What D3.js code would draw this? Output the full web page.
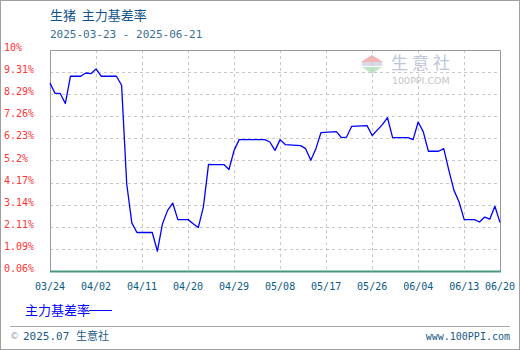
<!DOCTYPE html>
<html>
<head>
<meta charset="utf-8">
<script src="https://cdn.jsdelivr.net/npm/d3@7"></script>
<style>
  body { margin: 0; background: #fff; }
  svg { display: block; }
</style>
</head>
<body>
<div class="plot"></div>
<script>
const width = 520;
const height = 350;
const margin = { top: 50, right: 20, bottom: 79, left: 50 };

// 生猪 主力基差率 (%)
const dates = [
    "03-24", "03-25", "03-26", "03-27", "03-28", "03-30", "03-31", "04-01", "04-02", "04-03",
    "04-06", "04-07", "04-08", "04-09", "04-10", "04-13", "04-14", "04-15", "04-16", "04-17",
    "04-18", "04-20", "04-21", "04-22", "04-23", "04-24", "04-25", "04-27", "04-28", "04-29",
    "04-30", "05-05", "05-06", "05-07", "05-08", "05-09", "05-12", "05-13", "05-14", "05-15",
    "05-16", "05-19", "05-20", "05-21", "05-22", "05-25", "05-26", "05-28", "05-29", "05-30",
    "06-02", "06-03", "06-04", "06-05", "06-06", "06-08", "06-09", "06-10", "06-11", "06-12",
    "06-13", "06-15", "06-16", "06-17", "06-18", "06-19", "06-20"
];
const values = [
    8.80, 8.32, 8.32, 7.85, 9.12, 9.12, 9.27, 9.24, 9.46, 9.12,
    9.12, 8.70, 4.12, 2.30, 1.85, 1.85, 0.98, 2.26, 2.88, 3.22,
    2.45, 2.45, 2.26, 2.08, 3.04, 5.02, 5.01, 5.01, 4.78, 5.67,
    6.17, 6.17, 6.06, 5.67, 6.17, 5.94, 5.89, 5.75, 5.21, 5.75,
    6.50, 6.54, 6.26, 6.29, 6.79, 6.82, 6.36, 6.87, 7.19, 6.26,
    6.26, 6.17, 6.99, 6.53, 5.63, 5.63, 5.75, 4.74, 3.81, 3.27,
    2.45, 2.45, 2.34, 2.57, 2.47, 3.07, 2.32
];
const xTickLabels = ["03/24", "04/02", "04/11", "04/20", "04/29", "05/08", "05/17", "05/26", "06/04", "06/13", "06/20"];
const yTickValues = [0.06, 1.088, 2.116, 3.144, 4.172, 5.2, 6.228, 7.256, 8.284, 9.312, 10.34];
const yTickLabels = ["0.06%", "1.09%", "2.11%", "3.14%", "4.17%", "5.2%", "6.23%", "7.26%", "8.29%", "9.31%", "10%"];

const parse = d3.utcParse("%Y-%m-%d");
const parseTick = d3.utcParse("%Y/%m/%d");
const data = dates.map((d, i) => ({ date: parse("2025-" + d), value: values[i] }));
const tickDates = xTickLabels.map((t) => parseTick("2025/" + t));

const svg = d3
    .select(".plot")
    .append("svg")
    .attr("width", width)
    .attr("height", height);

// outer frame
svg.append("rect")
    .attr("x", 0.5).attr("y", 0.5)
    .attr("width", width - 1).attr("height", height - 1)
    .attr("fill", "#fff")
    .attr("stroke", "#a0a0a0");

const x0 = margin.left, x1 = width - margin.right;
const y0 = height - margin.bottom, y1 = margin.top;

const xScale = d3.scaleUtc()
    .domain([tickDates[0], tickDates[tickDates.length - 1]])
    .range([x0, x1]);

const yScale = d3.scaleLinear()
    .domain([yTickValues[0], yTickValues[yTickValues.length - 1]])
    .range([y0, y1]);

// title
svg.append("text")
    .attr("x", 50).attr("y", 20)
    .attr("fill", "#10548a")
    .style("font-family", "'Noto Sans CJK SC', sans-serif")
    .style("font-size", "13px")
    .style("white-space", "pre")
    .text("生猪  主力基差率");

svg.append("text")
    .attr("x", 50).attr("y", 38)
    .attr("fill", "#3a6e94")
    .style("font-family", "'DejaVu Sans Mono', monospace")
    .style("font-size", "11px")
    .text("2025-03-23 - 2025-06-21");

// watermark
const wm = svg.append("g").attr("transform", "translate(372, 62)");
wm.append("path").attr("d", "M-11,0 L0,-7 L11,0 Z").attr("fill", "#f4b4b4");
wm.append("rect").attr("x", -10).attr("y", 0).attr("width", 20).attr("height", 4).attr("fill", "#d8d8e8");
wm.append("path").attr("d", "M-10,5 L10,5 L0,12 Z").attr("fill", "#bfe6c4");
svg.append("text")
    .attr("x", 391).attr("y", 69)
    .attr("fill", "#bcc6dc")
    .style("font-family", "'Noto Sans CJK SC', sans-serif")
    .style("font-size", "17px")
    .style("letter-spacing", "4px")
    .text("生意社");
svg.append("text")
    .attr("x", 392).attr("y", 84)
    .attr("fill", "#c4c4c4")
    .style("font-family", "'DejaVu Sans', sans-serif")
    .style("font-size", "9.5px")
    .text("100PPI.COM");

// grid
svg.append("g")
    .selectAll("line")
    .data(yTickValues.slice(1, -1))
    .join("line")
    .attr("x1", x0).attr("x2", x1)
    .attr("y1", (d) => Math.round(yScale(d)) + 0.5)
    .attr("y2", (d) => Math.round(yScale(d)) + 0.5)
    .attr("stroke", "#c8c8c8")
    .attr("stroke-dasharray", "3,3");

svg.append("g")
    .selectAll("line")
    .data(tickDates.slice(1, -1))
    .join("line")
    .attr("x1", (d) => Math.round(xScale(d)) + 0.5)
    .attr("x2", (d) => Math.round(xScale(d)) + 0.5)
    .attr("y1", y1).attr("y2", y0)
    .attr("stroke", "#c8c8c8")
    .attr("stroke-dasharray", "3,3");

// plot frame
svg.append("path")
    .attr("d", `M${x0 + 0.5},${y0} V${y1 + 0.5} H${x1 + 0.5} V${y0}`)
    .attr("fill", "none")
    .attr("stroke", "#999");
svg.append("line")
    .attr("x1", x0).attr("x2", x1 + 1)
    .attr("y1", y0 + 0.5).attr("y2", y0 + 0.5)
    .attr("stroke", "#4a9a7a")
    .attr("stroke-width", 2);

// y labels
svg.append("g")
    .selectAll("text")
    .data(yTickValues)
    .join("text")
    .attr("x", 4)
    .attr("y", (d) => yScale(d) + 1)
    .attr("fill", "#ff3333")
    .style("font-family", "'DejaVu Sans Mono', monospace")
    .style("font-size", "10px")
    .text((d, i) => yTickLabels[i]);

// x labels
svg.append("g")
    .selectAll("text")
    .data(tickDates)
    .join("text")
    .attr("x", (d) => xScale(d))
    .attr("y", 290)
    .attr("text-anchor", "middle")
    .attr("fill", "#0a5a84")
    .style("font-family", "'DejaVu Sans Mono', monospace")
    .style("font-size", "10px")
    .text((d, i) => xTickLabels[i]);

// series
const line = d3.line()
    .x((d) => xScale(d.date))
    .y((d) => yScale(d.value));

svg.append("path")
    .datum(data)
    .attr("fill", "none")
    .attr("stroke", "#0000ff")
    .attr("stroke-width", 1.3)
    .attr("stroke-linejoin", "round")
    .attr("d", line);

// legend
svg.append("text")
    .attr("x", 25).attr("y", 315)
    .attr("fill", "#0000ff")
    .style("font-family", "'Noto Sans CJK SC', sans-serif")
    .style("font-size", "13px")
    .text("主力基差率");
svg.append("line")
    .attr("x1", 89).attr("x2", 112)
    .attr("y1", 310.5).attr("y2", 310.5)
    .attr("stroke", "#0000ff");

// footer
svg.append("line")
    .attr("x1", 10).attr("x2", 510)
    .attr("y1", 326.5).attr("y2", 326.5)
    .attr("stroke", "#a8a8a8");
svg.append("text")
    .attr("x", 10).attr("y", 339)
    .attr("fill", "#8aa0b4")
    .style("font-family", "'DejaVu Sans', sans-serif")
    .style("font-size", "9px")
    .text("©");
svg.append("text")
    .attr("x", 23).attr("y", 340)
    .attr("fill", "#1c5a86")
    .style("font-family", "'DejaVu Sans Mono', 'Noto Sans CJK SC', monospace")
    .style("font-size", "11px")
    .text("2025.07 生意社");
svg.append("text")
    .attr("x", 510).attr("y", 340)
    .attr("text-anchor", "end")
    .attr("fill", "#1c5a86")
    .style("font-family", "'DejaVu Sans Mono', monospace")
    .style("font-size", "10px")
    .text("www.100PPI.com");
</script>
</body>
</html>
